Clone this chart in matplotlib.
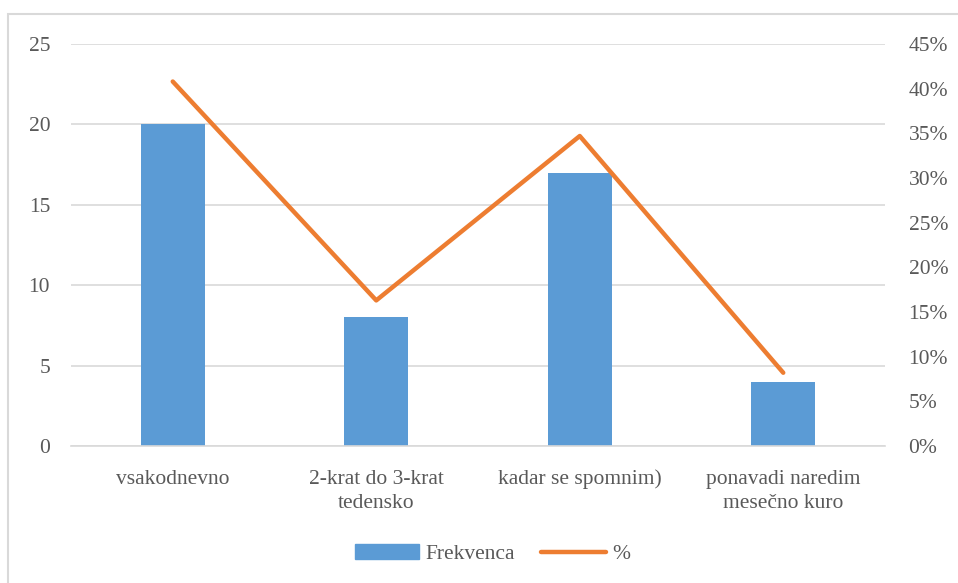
import matplotlib.pyplot as plt
from matplotlib.patches import Rectangle
from matplotlib.lines import Line2D
from matplotlib.ticker import PercentFormatter, MultipleLocator

# pogostost uporabe
kategorije = ["vsakodnevno", "2-krat do 3-krat\ntedensko", "kadar se spomnim)",
              "ponavadi naredim\nmesečno kuro"]
frekvenca = [20, 8, 17, 4]
odstotek = [40.8, 16.3, 34.7, 8.2]

plt.rcParams['font.family'] = ['Liberation Serif', 'DejaVu Serif']
TXT = "#595959"
GRID = "#D9D9D9"
FS = 15.5

fig = plt.figure(figsize=(9.58, 5.83), dpi=100)
ax = fig.add_axes([71 / 958, 1 - 446 / 583, (885 - 71) / 958, (446 - 44) / 583])
ax2 = ax.twinx()

x = range(len(kategorije))
ax.bar(x, frekvenca, width=0.315, color="#5B9BD5", zorder=2)
ax2.plot(x, odstotek, color="#ED7D31", linewidth=3.2, solid_capstyle="round", zorder=3)

ax.set_xlim(-0.5, len(kategorije) - 0.5)
ax.set_ylim(0, 25)
ax.yaxis.set_major_locator(MultipleLocator(5))
ax2.set_ylim(0, 45)
ax2.yaxis.set_major_locator(MultipleLocator(5))
ax2.yaxis.set_major_formatter(PercentFormatter(decimals=0))

ax.grid(axis="y", color=GRID, linewidth=1.2, zorder=0)
ax.set_axisbelow(True)
ax.set_xticks(list(x))
ax.set_xticklabels(kategorije, fontsize=FS, color=TXT, linespacing=1.4)
ax.tick_params(axis="x", length=0, pad=17)
ax.tick_params(axis="y", length=0, pad=15, labelsize=FS, labelcolor=TXT)
ax2.tick_params(axis="y", length=0, pad=17, labelsize=FS, labelcolor=TXT)
for a in (ax, ax2):
    for s in a.spines.values():
        s.set_visible(False)
ax.spines["bottom"].set_visible(True)
ax.spines["bottom"].set_color(GRID)
ax.spines["bottom"].set_linewidth(1.2)

# okvir grafikona
fig.patches.append(Rectangle((8 / 958, -0.05), 1.1, 1 - 14 / 583 + 0.05,
                             transform=fig.transFigure, fill=False,
                             edgecolor=GRID, linewidth=1.5))

handles = [Rectangle((0, 0), 1, 1, color="#5B9BD5"),
           Line2D([], [], color="#ED7D31", linewidth=3.2, solid_capstyle="round")]
fig.legend(handles, ["Frekvenca", "%"], loc="center", bbox_to_anchor=(0.514, 1 - 554 / 583),
           ncol=2, frameon=False, fontsize=FS, labelcolor=TXT, handlelength=3.0,
           handletextpad=0.3, columnspacing=1.2)

fig.savefig("out.png", dpi=100)
